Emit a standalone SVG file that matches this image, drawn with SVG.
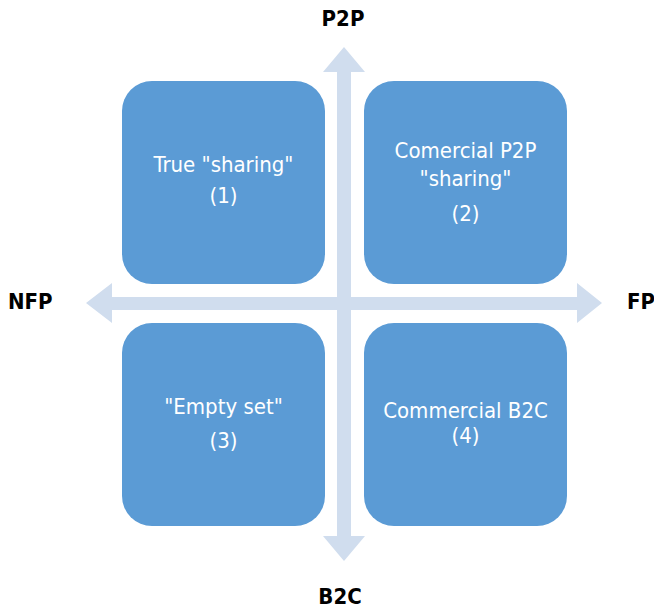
<svg xmlns="http://www.w3.org/2000/svg" width="654" height="610" viewBox="0 0 654 610">
  <style>
    .box { fill: #5B9BD5; }
    .axis { fill: #D0DDEE; }
    .lbl { font-family: "DejaVu Sans Condensed", Tahoma, sans-serif; font-size: 22px; fill: #FFFFFF; text-anchor: middle; }
    .pole { font-family: "DejaVu Sans Condensed", Tahoma, sans-serif; font-size: 22px; font-weight: bold; fill: #000000; }
  </style>
  <rect width="654" height="610" fill="#FFFFFF"/>

  <g id="connectors">
    <!-- vertical double arrow P2P / B2C -->
    <polygon class="axis" points="344,47 365,72 351,72 351,536 365,536 344,561 323,536 337,536 337,72 323,72"/>
    <!-- horizontal double arrow NFP / FP -->
    <polygon class="axis" points="86,303 112,283 112,297 577,297 577,283 602,303 577,323 577,310 112,310 112,323"/>
  </g>

  <g id="q1">
    <rect class="box" x="122" y="81" width="203" height="203" rx="30"/>
    <text class="lbl" x="223.5" y="172">True "sharing"</text>
    <text class="lbl" x="223.5" y="203">(1)</text>
  </g>
  <g id="q2">
    <rect class="box" x="364" y="81" width="203" height="203" rx="30"/>
    <text class="lbl" x="465.5" y="158">Comercial P2P</text>
    <text class="lbl" x="465.5" y="186">"sharing"</text>
    <text class="lbl" x="465.5" y="221">(2)</text>
  </g>
  <g id="q3">
    <rect class="box" x="122" y="323" width="203" height="203" rx="30"/>
    <text class="lbl" x="223.5" y="414">"Empty set"</text>
    <text class="lbl" x="223.5" y="448">(3)</text>
  </g>
  <g id="q4">
    <rect class="box" x="364" y="323" width="203" height="203" rx="30"/>
    <text class="lbl" x="465.5" y="418">Commercial B2C</text>
    <text class="lbl" x="465.5" y="443">(4)</text>
  </g>

  <g id="poles">
    <text class="pole" x="343" y="26" text-anchor="middle">P2P</text>
    <text class="pole" x="340" y="604" text-anchor="middle">B2C</text>
    <text class="pole" x="8" y="309">NFP</text>
    <text class="pole" x="627" y="309">FP</text>
  </g>
</svg>
